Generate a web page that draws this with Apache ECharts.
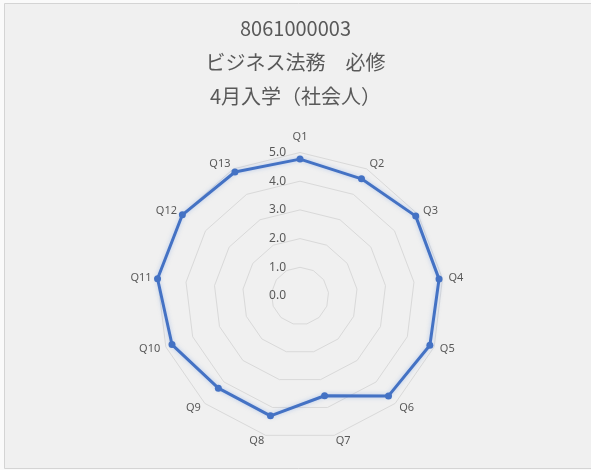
<!DOCTYPE html>
<html>
<head>
<meta charset="utf-8">
<script src="https://cdn.jsdelivr.net/npm/echarts@6/dist/echarts.min.js"></script>
<style>
  html, body { margin: 0; padding: 0; background: #fafafa; }
  #main { width: 591px; height: 470px; }
</style>
</head>
<body>
<div id="main"></div>
<script>
// Question labels, clockwise from the top
const questions = ['Q1', 'Q2', 'Q3', 'Q4', 'Q5', 'Q6', 'Q7', 'Q8', 'Q9', 'Q10', 'Q11', 'Q12', 'Q13'];
// Average score for each question (scale 0–5)
const scores = [4.77, 4.61, 4.90, 4.88, 4.84, 4.65, 3.58, 4.30, 4.29, 4.77, 5.00, 4.98, 4.88];
const titleLines = ['8061000003', 'ビジネス法務　必修', '4月入学（社会人）'];
const scaleMax = 5;

// ECharts lays radar indicators out counter-clockwise; reverse all but the first
const order = [0].concat(questions.map((_, i) => i).slice(1).reverse());

const indicator = order.map((i, k) => {
  const item = { name: questions[i], min: 0, max: scaleMax };
  if (k === 0) {
    item.axisLabel = { show: true };
    item.nameGap = 10;
  }
  return item;
});
const values = order.map(i => scores[i]);

const chart = echarts.init(document.getElementById('main'), null, { renderer: 'canvas' });
chart.setOption({
  backgroundColor: 'transparent',
  animation: false,
  graphic: [{
    type: 'rect',
    silent: true,
    z: -10,
    shape: { x: 4.5, y: 3.5, width: 640, height: 465 },
    style: { fill: '#f0f0f0', stroke: '#d4d4d4', lineWidth: 1 }
  }],
  title: {
    left: 'center',
    top: 11,
    padding: [0, 0, 0, 9],
    text: titleLines.join('\n'),
    textStyle: {
      fontFamily: '"Noto Sans CJK JP", "Noto Sans", sans-serif',
      fontSize: 20,
      fontWeight: 'normal',
      color: '#595959',
      lineHeight: 34
    }
  },
  radar: {
    center: [300, 296],
    radius: 143.5,
    startAngle: 90,
    splitNumber: 5,
    shape: 'polygon',
    indicator: indicator,
    nameGap: 6,
    axisName: {
      color: '#595959',
      fontSize: 11,
      fontFamily: '"Noto Sans", sans-serif'
    },
    axisLine: { show: false },
    splitLine: { lineStyle: { color: '#d9d9d9', width: 1 } },
    splitArea: { show: false },
    axisTick: { show: false },
    axisLabel: {
      show: false,
      color: '#595959',
      fontSize: 12,
      fontFamily: '"Noto Sans", sans-serif',
      margin: 14,
      formatter: v => Number(v).toFixed(1)
    }
  },
  series: [{
    type: 'radar',
    symbol: 'circle',
    symbolSize: 7,
    lineStyle: {
      color: '#4472c4',
      width: 3,
      shadowColor: 'rgba(120,160,230,0.5)',
      shadowBlur: 4
    },
    itemStyle: { color: '#4472c4' },
    data: [{ value: values, name: titleLines[0] }]
  }]
});
</script>
</body>
</html>
